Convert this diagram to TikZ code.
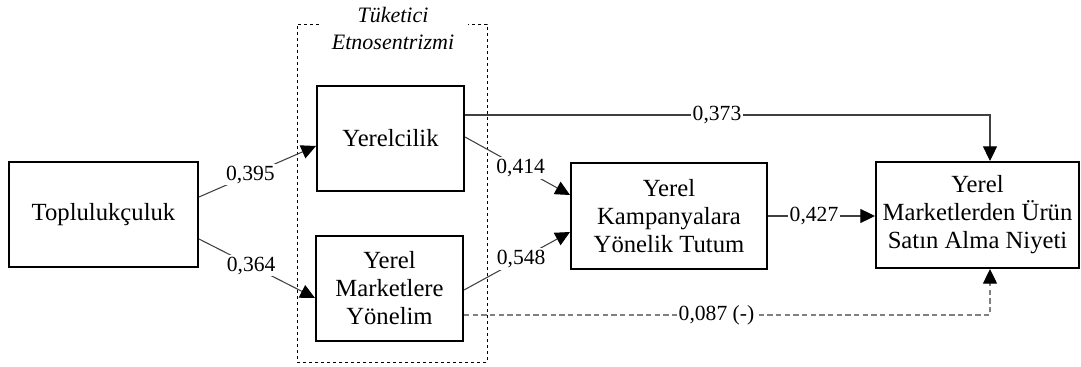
\documentclass[tikz,border=0pt]{standalone}
\usepackage{fontspec}
\setmainfont{Liberation Serif}
\usetikzlibrary{arrows.meta,calc}
\begin{document}
\begin{tikzpicture}[x=0.75pt,y=-0.75pt,
  box/.style={draw, line width=1.5pt, align=center, inner sep=0pt,
    font=\fontsize{18.5}{21}\selectfont},
  conn/.style={draw=black!75, line width=0.8pt,
    -{Triangle[length=11pt,width=10.5pt,color=black]}},
  dashconn/.style={draw=black!50, line width=1pt, dash pattern=on 4pt off 2.5pt},
  lbl/.style={fill=white, inner sep=1.5pt, font=\fontsize{16.2}{18}\selectfont},
  grouptitle/.style={align=center, font=\itshape\fontsize{16.5}{20}\selectfont},
  groupframe/.style={draw=black, line width=0.6pt, dash pattern=on 2.5pt off 2pt}]
\useasboundingbox (0,0) rectangle (1081,367);
% group frame
\draw[groupframe] (319,24) -- (297,24) -- (297,362) -- (487,362) -- (487,24) -- (468,24);
\node[grouptitle] (T) at (393,28.5) {Tüketici\\Etnosentrizmi};
% boxes
\node[box, minimum width=141.75pt, minimum height=78.75pt] (A) at (103.5,214.5) {Toplulukçuluk};
\node[box, minimum width=110.25pt, minimum height=78.75pt] (B) at (390.5,138.5) {Yerelcilik};
\node[box, minimum width=110.25pt, minimum height=78.75pt] (C) at (389.5,288.5) {Yerel\\Marketlere\\Yönelim};
\node[box, minimum width=147pt, minimum height=79.5pt] (D) at (669,216) {Yerel\\Kampanyalara\\Yönelik Tutum};
\node[box, minimum width=152.25pt, minimum height=79.5pt] (E) at (977.5,215) {Yerel\\Marketlerden Ürün\\Satın Alma Niyeti};
% connectors
\draw[conn] ($(A.east)+(0,-17.5)$) -- node[lbl,pos=0.44]{0,395} ($(B.west)+(0,7.5)$);
\draw[conn] ($(A.east)+(0,24.5)$) -- node[lbl,pos=0.45]{0,364} ($(C.west)+(0,9.5)$);
\draw[conn] ($(B.east)+(0,-1.5)$) -- node[lbl,pos=0.53]{0,414} ($(D.west)+(0,-21)$);
\draw[conn] ($(C.east)+(0,1.5)$) -- node[lbl,pos=0.54]{0,548} ($(D.west)+(0,16)$);
\draw[conn] ($(B.east)+(0,-23.5)$) -| node[lbl,pos=0.24]{0,373} ($(E.north)+(12.5,0)$);
\draw[conn] (D.east) -- node[lbl,pos=0.43]{0,427} (D.east -| E.west);
\draw[conn,dashconn] ($(C.east)+(0,26.5)$) -| node[lbl,pos=0.24]{0,087 (-)} ($(E.south)+(12.5,0)$);
\end{tikzpicture}
\end{document}
